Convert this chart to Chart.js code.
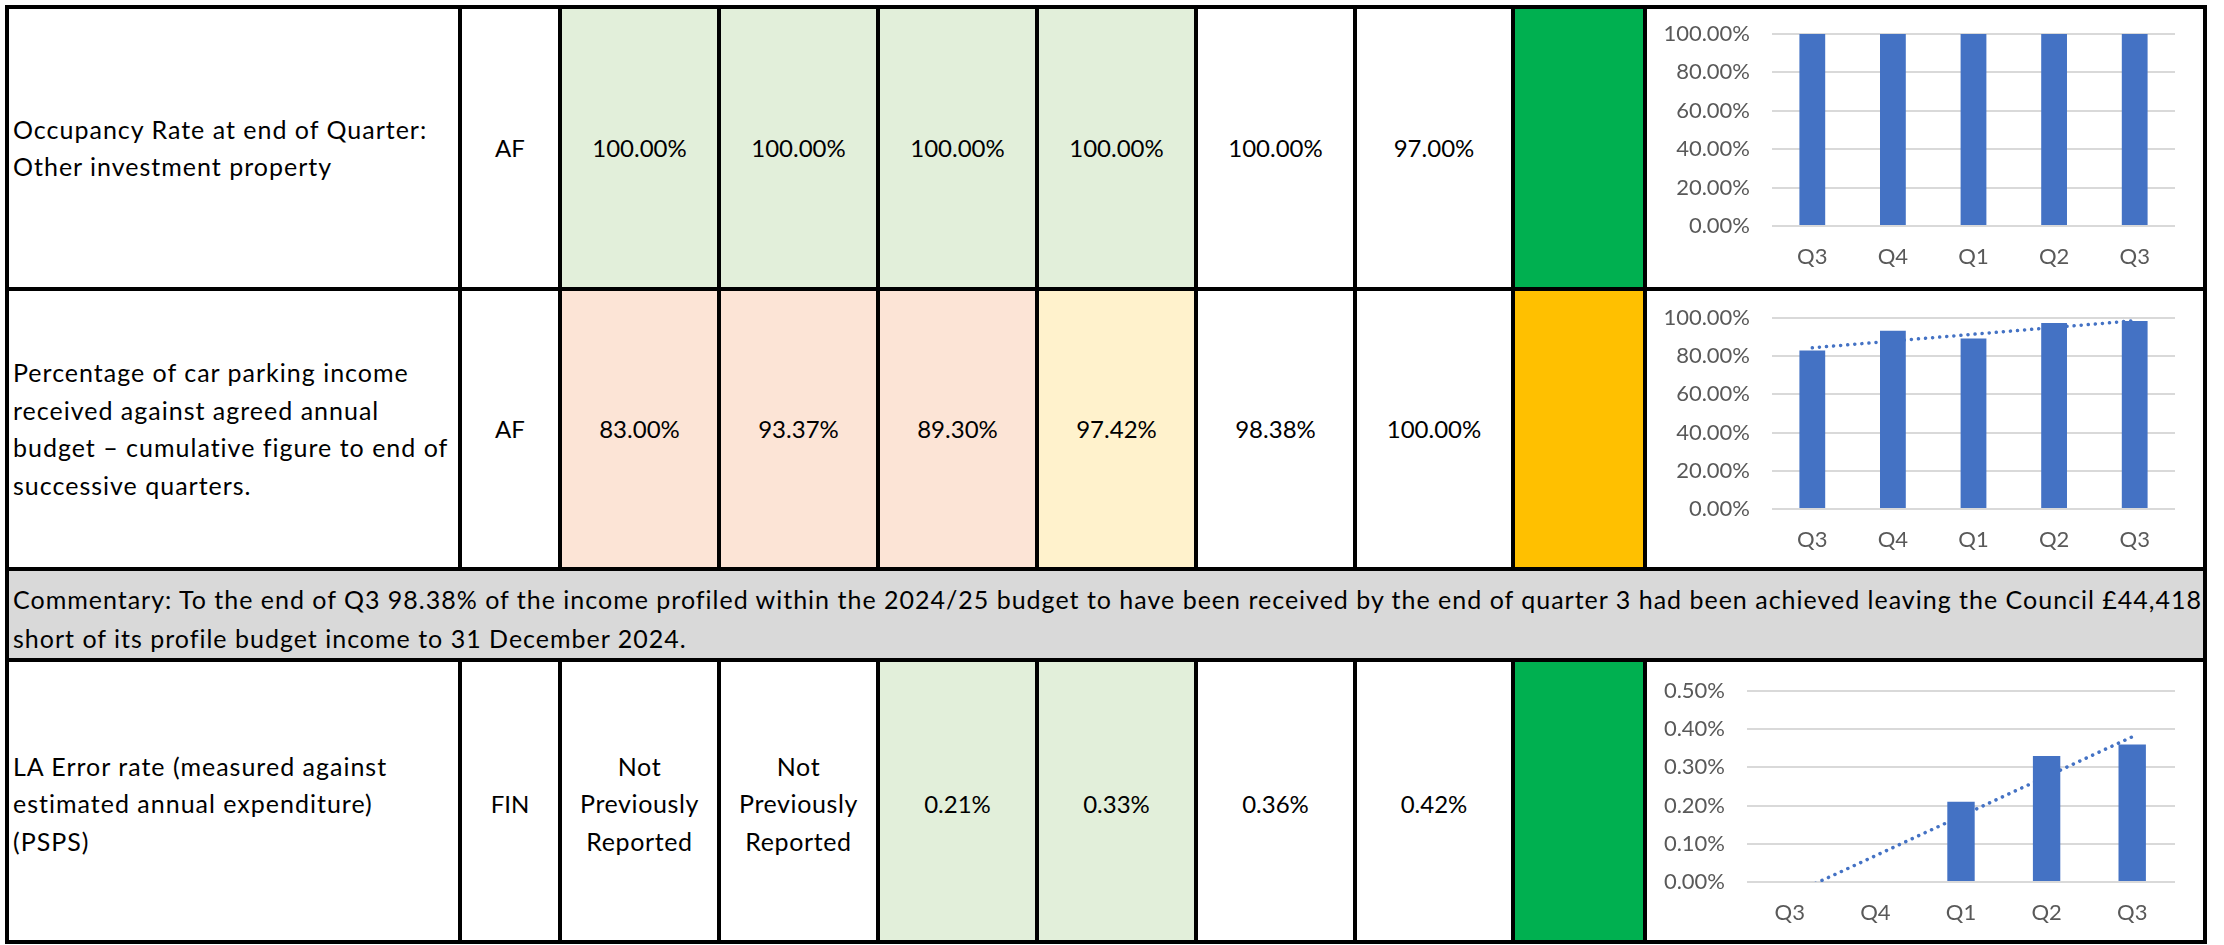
<!DOCTYPE html>
<html><head><meta charset="utf-8">
<script src="https://cdn.jsdelivr.net/npm/chart.js@4.4.1/dist/chart.umd.min.js"></script>
<style>
html,body{margin:0;padding:0;background:#fff;width:2224px;height:945px;overflow:hidden;}
#page{position:relative;width:2224px;height:945px;font-family:Lato,"Open Sans",sans-serif;color:#000;}
.cell{position:absolute;box-sizing:border-box;display:flex;align-items:center;justify-content:center;text-align:center;font-size:24px;line-height:37.5px;white-space:nowrap;}
.cell.left{justify-content:flex-start;text-align:left;padding-left:6px;font-size:25px;letter-spacing:1px;}
.cell.words{font-size:25px;letter-spacing:0.6px;}
.line{position:absolute;background:#000;}
canvas{position:absolute;}
</style></head>
<body><div id="page"></div>
<script>
// ---- data ----
const categories = ['Q3','Q4','Q1','Q2','Q3'];
const occupancyValues = [100, 100, 100, 100, 100];
const parkingValues = [83.00, 93.37, 89.30, 97.42, 98.38];
const parkingTrend = [84.4, null, null, null, 98.6];
const errorValues = [null, null, 0.21, 0.33, 0.36];
const errorTrend = [-0.035, null, null, null, 0.38];
const pctAxis = {max: 100, step: 20};
const errAxis = {max: 0.5, step: 0.1};

const descriptions = [
  ['Occupancy Rate at end of Quarter:', 'Other investment property'],
  ['Percentage of car parking income', 'received against agreed annual', 'budget \u2013 cumulative figure to end of', 'successive quarters.'],
  ['LA Error rate (measured against', 'estimated annual expenditure)', '(PSPS)']
];
const services = ['AF', 'AF', 'FIN'];
const occupancyRow = ['100.00%', '100.00%', '100.00%', '100.00%', '100.00%', '97.00%'];
const parkingRow = ['83.00%', '93.37%', '89.30%', '97.42%', '98.38%', '100.00%'];
const errorRow = ['Not\nPreviously\nReported', 'Not\nPreviously\nReported', '0.21%', '0.33%', '0.36%', '0.42%'];
const commentaryLines = [
  'Commentary: To the end of Q3 98.38% of the income profiled within the 2024/25 budget to have been received by the end of quarter 3 had been achieved leaving the Council \u00a344,418',
  'short of its profile budget income to 31 December 2024.'
];

// ---- styles / layout ----
const FILL = {g:'#E2EFDA', p:'#FCE4D6', y:'#FFF2CC', w:'#FFFFFF'};
const STATUS = ['#00B050', '#FFC000', '#00B050'];
const rowFills = [['g','g','g','g','w','w'], ['p','p','p','y','w','w'], ['w','w','g','g','w','w']];
const X = [7, 460, 560, 719, 878, 1037, 1196, 1355, 1513, 1645, 2205];
const Y = [7, 289, 569, 660, 942];
const rowTop = [Y[0], Y[1], Y[3]], rowBot = [Y[1], Y[2], Y[4]];
const BW = 4;
const page = document.getElementById('page');

function addCell(x0, y0, x1, y1, bg, html, cls) {
  const d = document.createElement('div');
  d.className = 'cell' + (cls ? ' ' + cls : '');
  d.style.left = x0 + 'px'; d.style.top = y0 + 'px';
  d.style.width = (x1 - x0) + 'px'; d.style.height = (y1 - y0) + 'px';
  d.style.background = bg;
  if (html !== null) { const s = document.createElement('div'); s.innerHTML = html; d.appendChild(s); }
  page.appendChild(d); return d;
}
function line(x, y, w, h) {
  const d = document.createElement('div'); d.className = 'line';
  d.style.left = x + 'px'; d.style.top = y + 'px'; d.style.width = w + 'px'; d.style.height = h + 'px';
  page.appendChild(d);
}
const rowsText = [occupancyRow, parkingRow, errorRow];
for (let r = 0; r < 3; r++) {
  const t = rowTop[r], b = rowBot[r];
  const dc = addCell(X[0], t, X[1], b, '#fff', descriptions[r].join('<br>'), 'left');
  if (r === 2) dc.style.paddingTop = '6px';
  addCell(X[1], t, X[2], b, '#fff', services[r]).style.paddingTop = r === 2 ? '6px' : '0';
  for (let c = 0; c < 6; c++) {
    const txt = rowsText[r][c];
    const cc = addCell(X[2 + c], t, X[3 + c], b, FILL[rowFills[r][c]], txt.replace(/\n/g, '<br>'), /[a-z]/.test(txt) ? 'words' : '');
    if (r === 2) cc.style.paddingTop = '6px';
  }
  addCell(X[8], t, X[9], b, STATUS[r], null);
  addCell(X[9], t, X[10], b, '#fff', null);
}
const com = addCell(X[0], Y[2], X[10], Y[3], '#D9D9D9', commentaryLines.join('<br>'), 'left');
com.style.alignItems = 'flex-end'; com.style.lineHeight = '39px'; com.style.paddingBottom = '2px';

// borders
for (const y of Y) line(X[0] - BW / 2, y - BW / 2, X[10] - X[0] + BW, BW);
for (let r = 0; r < 3; r++) for (const x of X) line(x - BW / 2, rowTop[r] - BW / 2, BW, rowBot[r] - rowTop[r] + BW);
line(X[0] - BW / 2, Y[2], BW, Y[3] - Y[2]); line(X[10] - BW / 2, Y[2], BW, Y[3] - Y[2]);

// ---- charts ----
function makeChart(r, vals, trend, axis, plot) {
  const cx0 = X[9] + 4, cx1 = X[10] - 3, cy0 = rowTop[r] + 3, cy1 = rowBot[r] - 3;
  const cv = document.createElement('canvas');
  cv.width = cx1 - cx0; cv.height = cy1 - cy0;
  cv.style.left = cx0 + 'px'; cv.style.top = cy0 + 'px';
  cv.style.width = cv.width + 'px'; cv.style.height = cv.height + 'px';
  page.appendChild(cv);
  const datasets = [{type: 'bar', data: vals, backgroundColor: '#4472C4', barPercentage: 0.32, categoryPercentage: 1, order: 0}];
  if (trend) datasets.push({type: 'line', data: trend, borderColor: '#4472C4', borderWidth: 3.5, borderDash: [0.1, 7], borderCapStyle: 'round', pointRadius: 0, spanGaps: true, fill: false, tension: 0, order: 1});
  const font = {family: 'Lato', size: 22};
  const want = {left: plot.left - cx0, right: plot.right - cx0, top: plot.top - cy0, bottom: plot.bottom - cy0};
  const pad = {top: want.top, right: cx1 - plot.right, bottom: 0, left: 0};
  const chart = new Chart(cv, {
    type: 'bar',
    data: {labels: categories, datasets},
    options: {
      responsive: false, animation: false, devicePixelRatio: 1,
      plugins: {legend: {display: false}, tooltip: {enabled: false}},
      layout: {padding: pad},
      scales: {
        x: {grid: {display: false, drawTicks: false}, border: {display: false},
            ticks: {color: '#595959', font, padding: 18},
            afterFit(s) { s.height = cy1 - plot.bottom; s.paddingLeft = 0; s.paddingRight = 0; }},
        y: {min: 0, max: axis.max, grid: {color: '#D9D9D9', lineWidth: 2, drawTicks: false}, border: {display: false},
            ticks: {stepSize: axis.step, color: '#595959', font, padding: 22, callback: v => v.toFixed(2) + '%'},
            afterFit(s) { s.width = plot.left - cx0; s.paddingTop = 0; s.paddingBottom = 0; }}
      }
    }
  });
  for (let i = 0; i < 3; i++) {
    const a = chart.chartArea;
    const dTop = a.top - want.top, dRight = a.right - want.right;
    if (Math.abs(dTop) < 0.5 && Math.abs(dRight) < 0.5) break;
    pad.top = Math.max(0, pad.top - dTop); pad.right = Math.max(0, pad.right + dRight);
    chart.options.layout.padding = {...pad};
    chart.update('none');
  }
}
makeChart(0, occupancyValues, null, pctAxis, {left: 1772, right: 2175, top: 34, bottom: 226});
makeChart(1, parkingValues, parkingTrend, pctAxis, {left: 1772, right: 2175, top: 318, bottom: 509});
makeChart(2, errorValues, errorTrend, errAxis, {left: 1747, right: 2175, top: 691, bottom: 882});
</script></body></html>
